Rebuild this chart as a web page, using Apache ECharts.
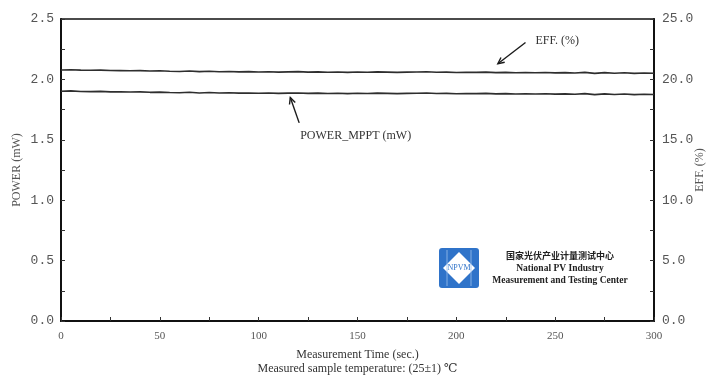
<!DOCTYPE html>
<html>
<head>
<meta charset="utf-8">
<script src="https://cdn.jsdelivr.net/npm/echarts@6/dist/echarts.min.js"></script>
<style>
  html, body { margin: 0; padding: 0; background: #fff; }
  #chart { width: 709px; height: 379px; }
</style>
</head>
<body>
<div id="chart"></div>
<script>
// Sampling times (sec.)
const timeSec = [0, 5, 10, 15, 20, 25, 30, 35, 40, 45, 50, 55, 60, 65, 70, 75, 80, 85, 90, 95,
  100, 105, 110, 115, 120, 125, 130, 135, 140, 145, 150, 155, 160, 165, 170, 175, 180, 185, 190, 195,
  200, 205, 210, 215, 220, 225, 230, 235, 240, 245, 250, 255, 260, 265, 270, 275, 280, 285, 290, 295, 300];

// Maximum power point output (mW)
const powerMppt = [1.902, 1.905, 1.900, 1.899, 1.901, 1.897, 1.898, 1.896, 1.897, 1.893,
  1.895, 1.891, 1.889, 1.894, 1.888, 1.891, 1.887, 1.889, 1.886, 1.888,
  1.885, 1.887, 1.884, 1.886, 1.888, 1.884, 1.886, 1.883, 1.885, 1.882,
  1.885, 1.883, 1.886, 1.884, 1.882, 1.884, 1.885, 1.887, 1.883, 1.884,
  1.881, 1.883, 1.882, 1.884, 1.880, 1.882, 1.879, 1.881, 1.879, 1.881,
  1.878, 1.880, 1.877, 1.882, 1.874, 1.880, 1.875, 1.879, 1.874, 1.877, 1.875];

// Conversion efficiency (%)
const efficiency = [20.78, 20.80, 20.77, 20.76, 20.77, 20.74, 20.73, 20.72, 20.73, 20.70,
  20.71, 20.68, 20.66, 20.70, 20.64, 20.67, 20.63, 20.65, 20.62, 20.64,
  20.61, 20.63, 20.60, 20.62, 20.64, 20.60, 20.62, 20.59, 20.61, 20.58,
  20.61, 20.59, 20.62, 20.60, 20.58, 20.60, 20.61, 20.63, 20.59, 20.60,
  20.57, 20.59, 20.58, 20.60, 20.56, 20.58, 20.55, 20.57, 20.55, 20.57,
  20.54, 20.56, 20.53, 20.58, 20.50, 20.56, 20.51, 20.55, 20.50, 20.53, 20.51];

// Axis ranges and tick steps
const xRange = [0, 300], xStep = 25, xLabelStep = 50;
const powerRange = [0, 2.5], powerStep = 0.25, powerLabelStep = 0.5;
const effRange = [0, 25], effStep = 2.5, effLabelStep = 5;

// Axis titles
const powerAxisTitle = 'POWER (mW)';
const effAxisTitle = 'EFF. (%)';

// Callout anchors in data units: [time, value]
const effCallout = { text: 'EFF. (%)', tip: [221, 21.3], tail: [235, 23.05], label: [240, 23.2] };
const powerCallout = { text: 'POWER_MPPT (mW)', tip: [116, 1.85], tail: [120.5, 1.64], label: [121, 1.53] };

const serif = '"Liberation Serif", "DejaVu Serif", serif';
const mono = '"Liberation Mono", "DejaVu Sans Mono", monospace';
const labelGray = '#555';
const lineColor = '#2e2e2e';

function stepLabel(step, labelStep) {
  return function (v) {
    const k = Math.round(v / step);
    const per = Math.round(labelStep / step);
    return k % per === 0 ? v.toFixed(1) : '';
  };
}

const chart = echarts.init(document.getElementById('chart'), null, { renderer: 'canvas' });

const option = {
  backgroundColor: '#fff',
  animation: false,
  grid: {
    left: 61, right: 55, top: 19, bottom: 58,
    outerBoundsMode: 'none', containLabel: false,
    show: true, borderColor: '#111', borderWidth: 1.5, backgroundColor: 'transparent'
  },
  xAxis: {
    type: 'value',
    min: xRange[0], max: xRange[1], interval: xStep,
    name: 'Measurement Time (sec.)',
    nameLocation: 'middle', nameGap: 28,
    nameTextStyle: { fontFamily: serif, fontSize: 12, color: '#333' },
    axisLine: { lineStyle: { color: '#111', width: 2 } },
    axisTick: { inside: true, length: 4, lineStyle: { color: '#333', width: 1 } },
    axisLabel: {
      fontFamily: serif, fontSize: 11, color: labelGray, margin: 10,
      formatter: function (v) { return v % xLabelStep === 0 ? String(v) : ''; }
    },
    splitLine: { show: false }
  },
  yAxis: [
    {
      type: 'value',
      min: powerRange[0], max: powerRange[1], interval: powerStep,
      axisLine: { show: true, lineStyle: { color: '#111', width: 2 } },
      axisTick: { show: true, inside: true, length: 4, lineStyle: { color: '#333', width: 1 } },
      axisLabel: { fontFamily: mono, fontSize: 13, color: labelGray, margin: 7,
        formatter: stepLabel(powerStep, powerLabelStep) },
      splitLine: { show: false }
    },
    {
      type: 'value', position: 'right',
      min: effRange[0], max: effRange[1], interval: effStep,
      axisLine: { show: true, lineStyle: { color: '#111', width: 2 } },
      axisTick: { show: true, inside: true, length: 4, lineStyle: { color: '#333', width: 1 } },
      axisLabel: { fontFamily: mono, fontSize: 13, color: labelGray, margin: 8,
        formatter: stepLabel(effStep, effLabelStep) },
      splitLine: { show: false }
    }
  ],
  series: [
    {
      name: 'POWER_MPPT (mW)', type: 'line', yAxisIndex: 0,
      data: timeSec.map((t, i) => [t, powerMppt[i]]),
      showSymbol: false, smooth: false,
      lineStyle: { color: lineColor, width: 1.6 }
    },
    {
      name: 'EFF. (%)', type: 'line', yAxisIndex: 1,
      data: timeSec.map((t, i) => [t, efficiency[i]]),
      showSymbol: false, smooth: false,
      lineStyle: { color: lineColor, width: 1.6 }
    }
  ]
};

chart.setOption(option);

// Annotations placed through the chart's own coordinate conversion
function px(pt, yAxisIndex) {
  return chart.convertToPixel({ xAxisIndex: 0, yAxisIndex: yAxisIndex }, pt);
}

function arrow(tail, tip) {
  const dx = tip[0] - tail[0], dy = tip[1] - tail[1];
  const len = Math.sqrt(dx * dx + dy * dy);
  const ux = dx / len, uy = dy / len;
  const head = 7, spread = 0.45;
  const ax = Math.cos(spread), as = Math.sin(spread);
  const l1 = [tip[0] - head * (ux * ax - uy * as), tip[1] - head * (uy * ax + ux * as)];
  const l2 = [tip[0] - head * (ux * ax + uy * as), tip[1] - head * (uy * ax - ux * as)];
  const style = { stroke: '#1a1a1a', lineWidth: 1.4, fill: null };
  return [
    { type: 'line', shape: { x1: tail[0], y1: tail[1], x2: tip[0], y2: tip[1] }, style: style, silent: true },
    { type: 'polyline', shape: { points: [l1, tip, l2] }, style: style, silent: true }
  ];
}

const effTip = px(effCallout.tip, 1), effTail = px(effCallout.tail, 1), effLab = px(effCallout.label, 1);
const pwTip = px(powerCallout.tip, 0), pwTail = px(powerCallout.tail, 0), pwLab = px(powerCallout.label, 0);

const gridRect = chart.getModel().getComponent('grid').coordinateSystem.getRect();
const xCenter = gridRect.x + gridRect.width / 2;
const yCenter = gridRect.y + gridRect.height / 2;

const logoX = 439, logoY = 248, logoS = 40;

const graphics = []
  .concat(arrow(effTail, effTip))
  .concat(arrow(pwTail, pwTip))
  .concat([
    // vertical axis titles
    { type: 'text', x: gridRect.x - 44, y: yCenter, rotation: Math.PI / 2,
      style: { text: powerAxisTitle, font: '12px ' + serif, fill: labelGray, align: 'center', verticalAlign: 'middle' } },
    { type: 'text', x: gridRect.x + gridRect.width + 46, y: yCenter, rotation: Math.PI / 2,
      style: { text: effAxisTitle, font: '12px ' + serif, fill: labelGray, align: 'center', verticalAlign: 'middle' } },
    { type: 'text', x: effLab[0], y: effLab[1],
      style: { text: effCallout.text, font: '12px ' + serif, fill: '#333', verticalAlign: 'middle' } },
    { type: 'text', x: pwLab[0], y: pwLab[1],
      style: { text: powerCallout.text, font: '12px ' + serif, fill: '#333', verticalAlign: 'middle' } },
    { type: 'text', x: xCenter, y: 369,
      style: { text: 'Measured sample temperature: (25±1) ℃', font: '12px ' + serif, fill: '#333',
        align: 'center', verticalAlign: 'middle' } },
    // NPVM logo
    { type: 'rect', shape: { x: logoX, y: logoY, width: logoS, height: logoS, r: 3 },
      style: { fill: '#2f73c9' }, silent: true },
    { type: 'polygon', shape: { points: [
        [logoX + logoS / 2, logoY + 4], [logoX + logoS - 4, logoY + logoS / 2],
        [logoX + logoS / 2, logoY + logoS - 4], [logoX + 4, logoY + logoS / 2]] },
      style: { fill: '#ffffff' }, silent: true },
    { type: 'line', shape: { x1: logoX + 8, y1: logoY + 2, x2: logoX + 8, y2: logoY + logoS - 2 },
      style: { stroke: '#9cc0ec', lineWidth: 0.8 }, silent: true },
    { type: 'line', shape: { x1: logoX + logoS - 8, y1: logoY + 2, x2: logoX + logoS - 8, y2: logoY + logoS - 2 },
      style: { stroke: '#9cc0ec', lineWidth: 0.8 }, silent: true },
    { type: 'text', x: logoX + logoS / 2, y: logoY + logoS / 2,
      style: { text: 'NPVM', font: '8px ' + serif, fill: '#2f73c9', align: 'center', verticalAlign: 'middle' } },
    { type: 'text', x: 560, y: 256,
      style: { text: '国家光伏产业计量测试中心', font: 'bold 9px "Noto Sans CJK SC", sans-serif', fill: '#222',
        align: 'center', verticalAlign: 'middle' } },
    { type: 'text', x: 560, y: 269,
      style: { text: 'National PV Industry', font: 'bold 9.5px ' + serif, fill: '#222',
        align: 'center', verticalAlign: 'middle' } },
    { type: 'text', x: 560, y: 281,
      style: { text: 'Measurement and Testing Center', font: 'bold 9.5px ' + serif, fill: '#222',
        align: 'center', verticalAlign: 'middle' } }
  ]);

chart.setOption({ graphic: graphics });
</script>
</body>
</html>
